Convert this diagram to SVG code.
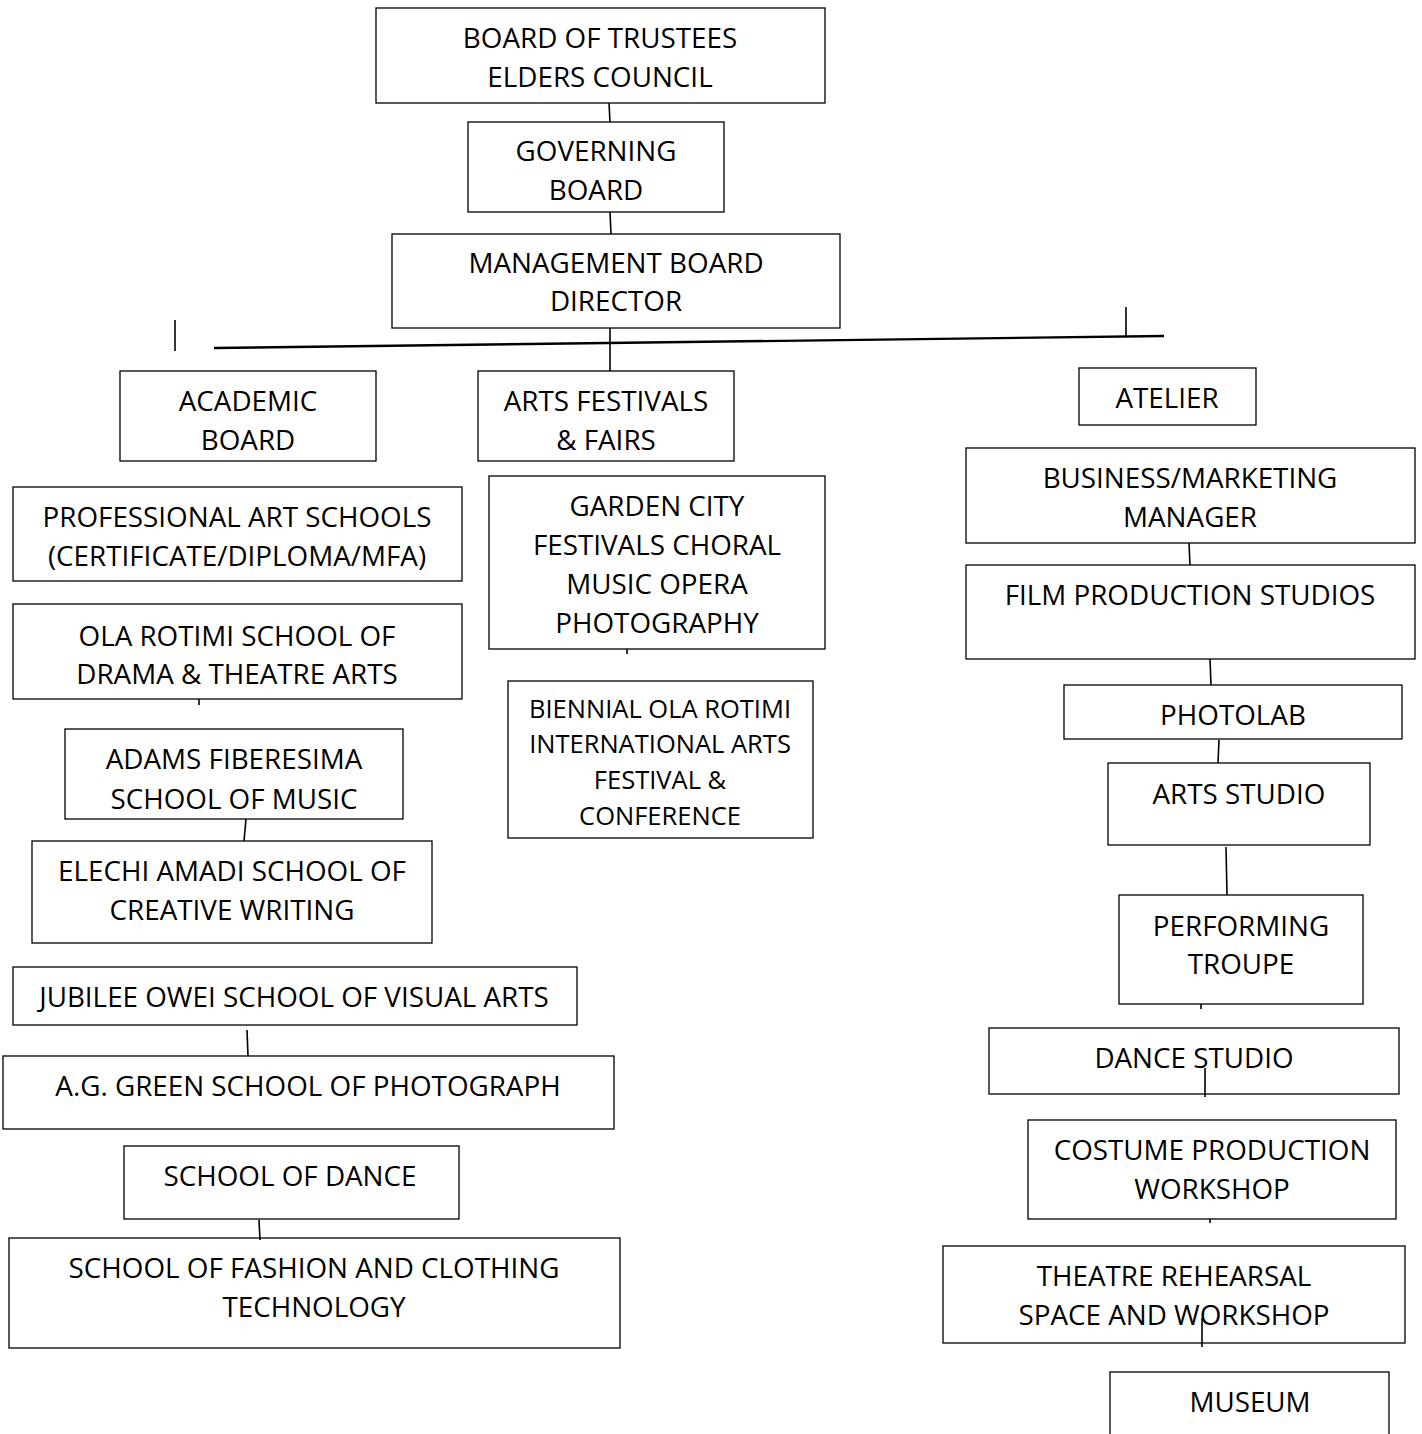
<svg xmlns="http://www.w3.org/2000/svg" width="1422" height="1434" viewBox="0 0 1422 1434">
<style>
rect{fill:#fff;stroke:#000;stroke-width:1.3}
text{font-family:"Open Sans","Liberation Sans",sans-serif;font-size:27.8px;fill:#000;text-anchor:middle}
text.s{font-size:25.5px}
line{stroke:#000;stroke-width:1.6}
line.h{stroke-width:2.4}
</style>
<rect x="0" y="0" width="1422" height="1434" style="stroke:none"/>
<g id="n-trustees"><rect x="376" y="8" width="449" height="95"/><text x="600" y="48">BOARD OF TRUSTEES</text><text x="600" y="87">ELDERS COUNCIL</text></g>
<g id="n-governing"><rect x="468" y="122" width="256" height="90"/><text x="596" y="161">GOVERNING</text><text x="596" y="200">BOARD</text></g>
<g id="n-management"><rect x="392" y="234" width="448" height="94"/><text x="616" y="273">MANAGEMENT BOARD</text><text x="616" y="311">DIRECTOR</text></g>
<g id="n-academic"><rect x="120" y="371" width="256" height="90"/><text x="248" y="411">ACADEMIC</text><text x="248" y="450">BOARD</text></g>
<g id="n-arts-festivals"><rect x="478" y="371" width="256" height="90"/><text x="606" y="411">ARTS FESTIVALS</text><text x="606" y="450">&amp; FAIRS</text></g>
<g id="n-atelier"><rect x="1079" y="368" width="177" height="57"/><text x="1167" y="408">ATELIER</text></g>
<g id="n-professional"><rect x="13" y="487" width="449" height="94"/><text x="237" y="527">PROFESSIONAL ART SCHOOLS</text><text x="237" y="566">(CERTIFICATE/DIPLOMA/MFA)</text></g>
<g id="n-ola-rotimi"><rect x="13" y="604" width="449" height="95"/><text x="237" y="646">OLA ROTIMI SCHOOL OF</text><text x="237" y="684">DRAMA &amp; THEATRE ARTS</text></g>
<g id="n-adams"><rect x="65" y="729" width="338" height="90"/><text x="234" y="769">ADAMS FIBERESIMA</text><text x="234" y="809">SCHOOL OF MUSIC</text></g>
<g id="n-elechi"><rect x="32" y="841" width="400" height="102"/><text x="232" y="881">ELECHI AMADI SCHOOL OF</text><text x="232" y="920">CREATIVE WRITING</text></g>
<g id="n-jubilee"><rect x="13" y="967" width="564" height="58"/><text x="294" y="1007">JUBILEE OWEI SCHOOL OF VISUAL ARTS</text></g>
<g id="n-ag-green"><rect x="3" y="1056" width="611" height="73"/><text x="308" y="1096">A.G. GREEN SCHOOL OF PHOTOGRAPH</text></g>
<g id="n-school-dance"><rect x="124" y="1146" width="335" height="73"/><text x="290" y="1186">SCHOOL OF DANCE</text></g>
<g id="n-fashion"><rect x="9" y="1238" width="611" height="110"/><text x="314" y="1278">SCHOOL OF FASHION AND CLOTHING</text><text x="314" y="1317">TECHNOLOGY</text></g>
<g id="n-garden-city"><rect x="489" y="476" width="336" height="173"/><text x="657" y="516">GARDEN CITY</text><text x="657" y="555">FESTIVALS CHORAL</text><text x="657" y="594">MUSIC OPERA</text><text x="657" y="633">PHOTOGRAPHY</text></g>
<g id="n-biennial"><rect x="508" y="681" width="305" height="157"/><text class="s" x="660" y="718">BIENNIAL OLA ROTIMI</text><text class="s" x="660" y="753">INTERNATIONAL ARTS</text><text class="s" x="660" y="789">FESTIVAL &amp;</text><text class="s" x="660" y="825">CONFERENCE</text></g>
<g id="n-business"><rect x="966" y="448" width="449" height="95"/><text x="1190" y="488">BUSINESS/MARKETING</text><text x="1190" y="527">MANAGER</text></g>
<g id="n-film"><rect x="966" y="565" width="449" height="94"/><text x="1190" y="605">FILM PRODUCTION STUDIOS</text></g>
<g id="n-photolab"><rect x="1064" y="685" width="338" height="54"/><text x="1233" y="725">PHOTOLAB</text></g>
<g id="n-arts-studio"><rect x="1108" y="763" width="262" height="82"/><text x="1239" y="804">ARTS STUDIO</text></g>
<g id="n-performing"><rect x="1119" y="895" width="244" height="109"/><text x="1241" y="936">PERFORMING</text><text x="1241" y="974">TROUPE</text></g>
<g id="n-dance-studio"><rect x="989" y="1028" width="410" height="66"/><text x="1194" y="1068">DANCE STUDIO</text></g>
<g id="n-costume"><rect x="1028" y="1120" width="368" height="99"/><text x="1212" y="1160">COSTUME PRODUCTION</text><text x="1212" y="1199">WORKSHOP</text></g>
<g id="n-theatre"><rect x="943" y="1246" width="462" height="97"/><text x="1174" y="1286">THEATRE REHEARSAL</text><text x="1174" y="1325">SPACE AND WORKSHOP</text></g>
<g id="n-museum"><rect x="1110" y="1372" width="279" height="80"/><text x="1250" y="1412">MUSEUM</text></g>
<g id="connectors">
<line x1="609" y1="103" x2="610" y2="122"/>
<line x1="610" y1="212" x2="611" y2="234"/>
<line x1="610" y1="328" x2="610" y2="371"/>
<line class="h" x1="214" y1="348" x2="1164" y2="336"/>
<line x1="175" y1="320" x2="175" y2="351"/>
<line x1="1126" y1="307" x2="1126" y2="337"/>
<line x1="199" y1="699" x2="199" y2="705"/>
<line x1="246" y1="819" x2="244" y2="841"/>
<line x1="247" y1="1030" x2="248" y2="1056"/>
<line x1="259" y1="1220" x2="260" y2="1240"/>
<line x1="627" y1="649" x2="627" y2="654"/>
<line x1="1189" y1="543" x2="1190" y2="565"/>
<line x1="1210" y1="659" x2="1211" y2="685"/>
<line x1="1219" y1="740" x2="1218" y2="763"/>
<line x1="1226" y1="847" x2="1227" y2="895"/>
<line x1="1201" y1="1004" x2="1201" y2="1009"/>
<line x1="1205" y1="1068" x2="1205" y2="1097"/>
<line x1="1210" y1="1219" x2="1210" y2="1223"/>
<line x1="1202" y1="1318" x2="1202" y2="1347"/>
</g>
</svg>
